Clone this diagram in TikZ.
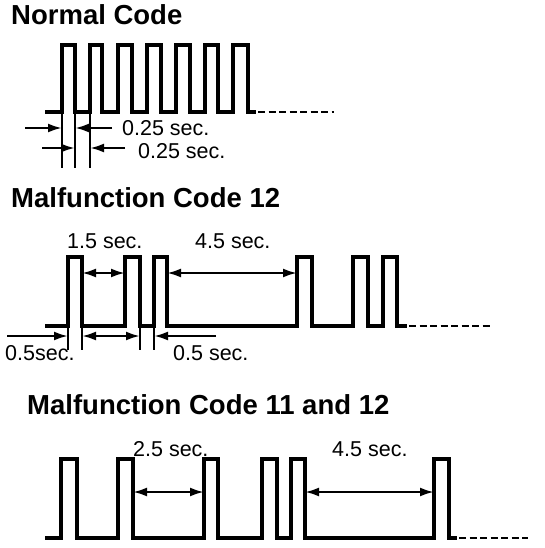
\documentclass[tikz,border=0pt]{standalone}
\usepackage{fontspec}
\setmainfont{Liberation Sans}
\usetikzlibrary{arrows.meta}
\tikzset{
  wave/.style={line width=3.3pt,line join=miter},
  tailline/.style={line width=2.4pt,dash pattern=on 7pt off 3.5pt},
  extline/.style={line width=1.5pt},
  onearrow/.style={line width=2.4pt,-{Latex[length=14pt,width=9pt]}},
  twoarrow/.style={line width=2.4pt,{Latex[length=14pt,width=9pt]}-{Latex[length=14pt,width=9pt]}},
  titletext/.style={anchor=base west,inner sep=0pt,font=\fontsize{27.5}{30}\selectfont\bfseries},
  lbltext/.style={anchor=base west,inner sep=0pt,font=\fontsize{21.5}{24}\selectfont}}
\begin{document}
\begin{tikzpicture}[x=1pt,y=-1pt]
\useasboundingbox (0,0) rectangle (544,548);
% ---------- Normal Code ----------
\node[titletext] (t1) at (11,25) {Normal Code};
\draw[wave] (45,112) -- (62,112) -- (62,45) -- (75,45) -- (75,112)
  -- (90,112) -- (90,45) -- (102,45) -- (102,112)
  -- (118,112) -- (118,45) -- (132,45) -- (132,112)
  -- (147,112) -- (147,45) -- (161,45) -- (161,112)
  -- (176,112) -- (176,45) -- (190,45) -- (190,112)
  -- (205,112) -- (205,45) -- (218,45) -- (218,112)
  -- (233,112) -- (233,45) -- (248,45) -- (248,112) -- (256,112);
\draw[tailline] (258,112) -- (334,112);
\draw[extline] (62,112) -- (62,168) (75,112) -- (75,168) (90,112) -- (90,168);
\coordinate (a1s) at (25,128); \coordinate (a1e) at (62,128);
\coordinate (a2s) at (112,128); \coordinate (a2e) at (75,128);
\coordinate (a3s) at (42,148); \coordinate (a3e) at (75,148);
\coordinate (a4s) at (125,148); \coordinate (a4e) at (90,148);
\draw[onearrow] (a1s) -- (a1e);
\draw[onearrow] (a2s) -- (a2e);
\draw[onearrow] (a3s) -- (a3e);
\draw[onearrow] (a4s) -- (a4e);
\node[lbltext] (l1) at (122,136) {0.25 sec.};
\node[lbltext] (l2) at (138,158) {0.25 sec.};
% ---------- Malfunction Code 12 ----------
\node[titletext] (t2) at (11,207) {Malfunction Code 12};
\draw[wave] (45,326) -- (68,326) -- (68,257) -- (82,257) -- (82,326)
  -- (125,326) -- (125,257) -- (140,257) -- (140,326)
  -- (154,326) -- (154,257) -- (167,257) -- (167,326)
  -- (297,326) -- (297,257) -- (312,257) -- (312,326)
  -- (353,326) -- (353,257) -- (368,257) -- (368,326)
  -- (383,326) -- (383,257) -- (397,257) -- (397,326) -- (407,326);
\draw[tailline] (409,326) -- (490,326);
\draw[extline] (68,326) -- (68,350) (82,326) -- (82,350) (140,326) -- (140,350) (154,326) -- (154,350);
\coordinate (b1s) at (82,273); \coordinate (b1e) at (125,273);
\coordinate (b2s) at (167,273); \coordinate (b2e) at (297,273);
\coordinate (b3s) at (7,336); \coordinate (b3e) at (68,336);
\coordinate (b4s) at (82,336); \coordinate (b4e) at (140,336);
\coordinate (b5s) at (216,336); \coordinate (b5e) at (154,336);
\draw[twoarrow] (b1s) -- (b1e);
\draw[twoarrow] (b2s) -- (b2e);
\draw[onearrow] (b3s) -- (b3e);
\draw[twoarrow] (b4s) -- (b4e);
\draw[onearrow] (b5s) -- (b5e);
\node[lbltext] (l3) at (67,248) {1.5 sec.};
\node[lbltext] (l4) at (195,248) {4.5 sec.};
\node[lbltext] (l5) at (5,360) {0.5sec.};
\node[lbltext] (l6) at (173,360) {0.5 sec.};
% ---------- Malfunction Code 11 and 12 ----------
\node[titletext] (t3) at (27,414) {Malfunction Code 11 and 12};
\draw[wave] (45,538) -- (61,538) -- (61,459) -- (77,459) -- (77,538)
  -- (118,538) -- (118,459) -- (133,459) -- (133,538)
  -- (204,538) -- (204,459) -- (218,459) -- (218,538)
  -- (262,538) -- (262,459) -- (277,459) -- (277,538)
  -- (291,538) -- (291,459) -- (305,459) -- (305,538)
  -- (434,538) -- (434,459) -- (449,459) -- (449,538) -- (457,538);
\draw[tailline] (459,538) -- (528,538);
\coordinate (c1s) at (133,492); \coordinate (c1e) at (204,492);
\coordinate (c2s) at (305,492); \coordinate (c2e) at (434,492);
\draw[twoarrow] (c1s) -- (c1e);
\draw[twoarrow] (c2s) -- (c2e);
\node[lbltext] (l7) at (133,456) {2.5 sec.};
\node[lbltext] (l8) at (332,456) {4.5 sec.};
\end{tikzpicture}
\end{document}
